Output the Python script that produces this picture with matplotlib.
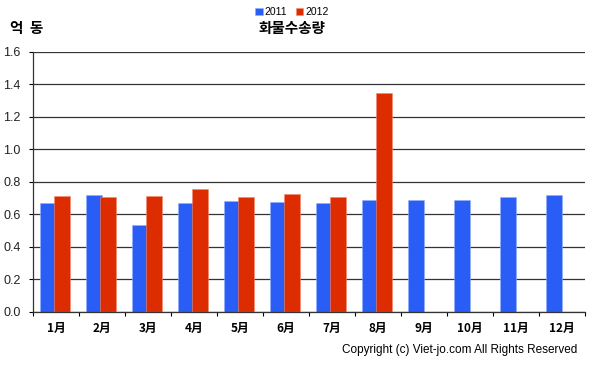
import numpy as np
import matplotlib
matplotlib.use("Agg")
import matplotlib.pyplot as plt
from matplotlib.ticker import FixedLocator

plt.rcParams['font.family'] = ['Noto Sans CJK KR', 'DejaVu Sans']

months = ['1月', '2月', '3月', '4月', '5月', '6月', '7月', '8月', '9月', '10月', '11月', '12月']
v2011 = [0.67, 0.72, 0.535, 0.67, 0.68, 0.675, 0.67, 0.69, 0.69, 0.69, 0.705, 0.72]
v2012 = [0.715, 0.71, 0.715, 0.755, 0.71, 0.725, 0.71, 1.35]
series = ['2011', '2012']
yticks = [0.0, 0.2, 0.4, 0.6, 0.8, 1.0, 1.2, 1.4, 1.6]

blue = '#2a5cf6'
red = '#dd2c00'

fig = plt.figure(figsize=(5.96, 3.72), dpi=100)
ax = fig.add_axes([0.0554, 0.1613, 0.926, 0.699])

x = np.arange(len(months))
b1 = ax.bar(x[:len(v2011)] - 0.17, v2011, width=0.36, color=blue,
            edgecolor='#8fb0ff', linewidth=0.4, label=series[0], zorder=2)
b2 = ax.bar(x[:len(v2012)] + 0.13, v2012, width=0.35, color=red,
            edgecolor='#f08a70', linewidth=0.4, label=series[1], zorder=3)

ax.set_xlim(-0.5, len(months) - 0.5)
ax.set_ylim(0, 1.6)
ax.set_yticks(yticks)
ax.set_yticklabels(['%.1f' % t for t in yticks], fontsize=9, color='#222222',
                   family='Liberation Sans')
ax.set_xticks(x)
ax.set_xticklabels(months, fontsize=8.5, fontweight='bold')
ax.xaxis.set_minor_locator(FixedLocator(np.arange(-0.5, len(months), 1.0)))
ax.tick_params(axis='x', which='major', length=0, pad=7)
ax.tick_params(axis='x', which='minor', length=3, width=0.8, direction='out')
ax.tick_params(axis='y', length=3, width=0.8, direction='out', pad=6)

ax.set_axisbelow(True)
ax.yaxis.grid(True, color='#333333', linewidth=0.9)
for s in ['top', 'right']:
    ax.spines[s].set_visible(False)
ax.spines['left'].set_color('#333333')
ax.spines['bottom'].set_color('#333333')
ax.spines['left'].set_linewidth(0.9)
ax.spines['bottom'].set_linewidth(0.9)

fig.legend(handles=[b1, b2], labels=series, loc='center', bbox_to_anchor=(0.49, 0.968),
           ncol=2, frameon=False, prop={'family': 'Liberation Sans', 'size': 7.5},
           handlelength=0.7, handleheight=0.7,
           handletextpad=0.2, columnspacing=0.8, borderpad=0)
fig.text(0.49, 0.925, '화물수송량', ha='center', va='center', fontsize=10.5, fontweight='bold')
fig.text(0.017, 0.925, '억  동', ha='left', va='center', fontsize=10.5, fontweight='bold')
fig.text(0.968, 0.058, 'Copyright (c) Viet-jo.com All Rights Reserved', ha='right',
         va='center', fontsize=8.5, family='Liberation Sans')

fig.savefig('out.png', dpi=100)
